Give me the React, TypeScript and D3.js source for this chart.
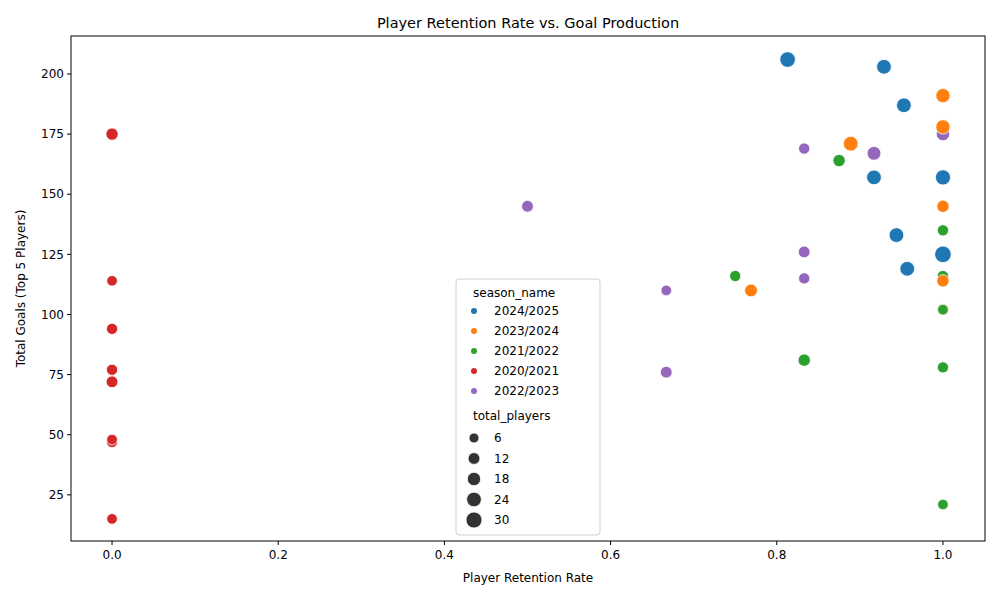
import * as d3 from "d3"

type Pt = { season: string; rate: number; goals: number; players: number }

const SEASONS = ["2024/2025", "2023/2024", "2021/2022", "2020/2021", "2022/2023"]
const COLORS = ["#1f77b4", "#ff7f0e", "#2ca02c", "#d62728", "#9467bd"]
const SIZE_TICKS = [6, 12, 18, 24, 30]
const X_TICKS = [0, 0.2, 0.4, 0.6, 0.8, 1.0]
const Y_TICKS = [25, 50, 75, 100, 125, 150, 175, 200]

// [rate, goals, players] per season
const S2024: [number, number, number][] = [
  [0.813, 206, 28], [0.929, 203, 24], [0.953, 187, 24], [0.917, 157, 24],
  [1.0, 157, 26], [0.944, 133, 24], [0.957, 119, 24], [1.0, 125, 33],
]
const S2023: [number, number, number][] = [
  [1.0, 191, 22], [1.0, 178, 22], [0.889, 171, 24], [1.0, 145, 14],
  [1.0, 114, 14], [0.769, 110, 16], [1.0, 102, 12],
]
const S2021: [number, number, number][] = [
  [0.875, 164, 14], [1.0, 135, 10], [1.0, 116, 10], [1.0, 102, 8],
  [0.75, 116, 10], [0.833, 81, 14], [1.0, 78, 10], [1.0, 21, 8],
]
const S2020: [number, number, number][] = [
  [0, 175, 14], [0, 114, 8], [0, 94, 10], [0, 77, 10], [0, 72, 12],
  [0, 47, 10], [0, 48, 8], [0, 15, 8],
]
const S2022: [number, number, number][] = [
  [1.0, 175, 18], [0.833, 169, 10], [0.917, 167, 20], [0.5, 145, 12],
  [0.833, 126, 12], [0.833, 115, 10], [0.667, 110, 8], [0.667, 76, 12],
]

const points: Pt[] = [S2024, S2023, S2021, S2020, S2022].flatMap((arr, i) =>
  arr.map(([rate, goals, players]) => ({ season: SEASONS[i], rate, goals, players }))
)

const W = 1000, H = 600
const M = { left: 71, right: 985, top: 36, bottom: 541 }

export default function App() {
  const x = d3.scaleLinear().domain([-0.0494, 1.0506]).range([M.left, M.right])
  const y = d3.scaleLinear().domain([5.8, 215.8]).range([M.bottom, M.top])
  const color = d3.scaleOrdinal<string, string>().domain(SEASONS).range(COLORS)
  const area = d3.scaleLinear().domain([6, 30]).range([25, 64])
  const r = (p: number) => Math.sqrt(area(p))
  // bigger first so small ones stay visible; a few orange points sit on top like the original
  const onTop = (d: Pt) => d.season === "2023/2024" && d.rate === 1 && (d.goals === 114 || d.goals === 178)
  const order = [...points].sort((a, b) =>
    (onTop(a) ? 1 : 0) - (onTop(b) ? 1 : 0) || b.players - a.players)

  const lx = 456, ly = 279
  return (
    <svg width={W} height={H} style={{ position: "absolute", left: 0, top: 0, fontFamily: "DejaVu Sans" }}>
      <rect width={W} height={H} fill="white" />
      <text x={(M.left + M.right) / 2} y={28} textAnchor="middle" fontSize={14.5}>
        Player Retention Rate vs. Goal Production
      </text>
      {order.map((d, i) => (
        <circle key={i} cx={x(d.rate)} cy={y(d.goals)} r={r(d.players)}
          fill={color(d.season)} stroke="white" strokeWidth={0.8} />
      ))}
      <rect x={M.left} y={M.top} width={M.right - M.left} height={M.bottom - M.top}
        fill="none" stroke="black" strokeWidth={1} />
      {X_TICKS.map((t) => (
        <g key={t} transform={`translate(${x(t)},${M.bottom})`}>
          <line y2={4} stroke="black" />
          <text y={18} textAnchor="middle" fontSize={12}>{t.toFixed(1)}</text>
        </g>
      ))}
      {Y_TICKS.map((t) => (
        <g key={t} transform={`translate(${M.left},${y(t)})`}>
          <line x2={-4} stroke="black" />
          <text x={-7} dy="0.35em" textAnchor="end" fontSize={12}>{t}</text>
        </g>
      ))}
      <text x={(M.left + M.right) / 2} y={582} textAnchor="middle" fontSize={12}>Player Retention Rate</text>
      <text transform={`translate(25,${(M.top + M.bottom) / 2}) rotate(-90)`} textAnchor="middle" fontSize={12}>
        Total Goals (Top 5 Players)
      </text>
      <g transform={`translate(${lx},${ly})`}>
        <rect width={144} height={256} rx={3} fill="white" stroke="#ccc" opacity={0.9} />
        <text x={17} y={18} fontSize={12}>season_name</text>
        {SEASONS.map((s, i) => (
          <g key={s} transform={`translate(0,${32 + i * 20})`}>
            <circle cx={18} cy={0} r={3} fill={COLORS[i]} />
            <text x={38} dy="0.35em" fontSize={12}>{s}</text>
          </g>
        ))}
        <text x={17} y={141} fontSize={12}>total_players</text>
        {SIZE_TICKS.map((p, i) => (
          <g key={p} transform={`translate(0,${159 + i * 20.5})`}>
            <circle cx={18} cy={0} r={r(p)} fill="#333" stroke="white" strokeWidth={0.8} />
            <text x={38} dy="0.35em" fontSize={12}>{p}</text>
          </g>
        ))}
      </g>
    </svg>
  )
}
